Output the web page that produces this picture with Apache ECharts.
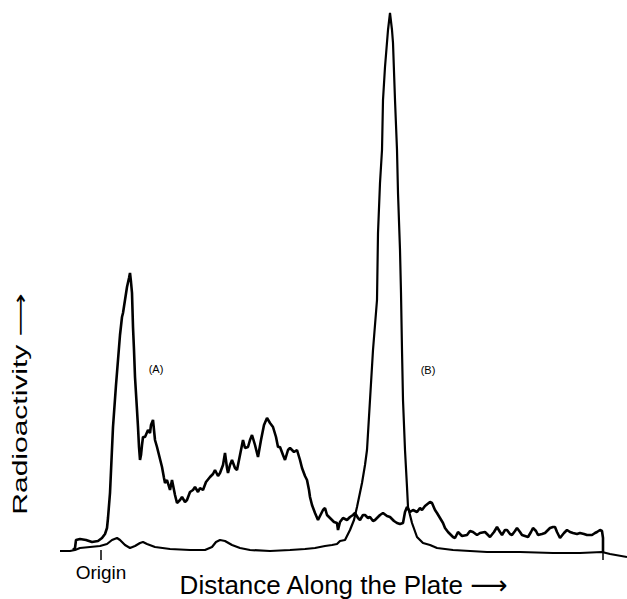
<!DOCTYPE html>
<html>
<head>
<meta charset="utf-8">
<script src="https://cdn.jsdelivr.net/npm/echarts@6/dist/echarts.min.js"></script>
<style>
html,body{margin:0;padding:0;background:#fff;}
#chart{width:627px;height:599px;}
</style>
</head>
<body>
<div id="chart"></div>
<script>
// Trace (A): [distance, radioactivity]
var traceA = [[73,0],[75,2],[76,10],[80,11],[86,10],[92,8],[98,9],[102,12],[105,16],[107,22],[108,32],[110,57],[113,123],[116,165],[118,190],[120,215],[122,233],[123,237],[125,250],[127,263],[129,272],[130,277],[131,268],[132,257],[133,223],[134,200],[135,173],[137,140],[138,123],[139,103],[140,90],[141,95],[142,105],[143,113],[145,113],[148,120],[150,117],[151,125],[153,130],[155,110],[157,103],[159,95],[162,83],[164,72],[165,67],[167,70],[170,60],[172,70],[175,55],[177,47],[180,50],[182,53],[185,48],[187,50],[190,58],[193,60],[195,63],[198,58],[200,62],[203,60],[206,68],[210,73],[213,76],[215,80],[218,74],[220,77],[223,85],[225,97],[227,82],[228,77],[230,85],[232,90],[235,82],[237,80],[240,95],[243,110],[245,102],[248,103],[250,110],[252,115],[255,105],[258,93],[261,110],[264,125],[267,132],[270,127],[273,123],[276,113],[278,103],[280,103],[283,95],[285,90],[288,100],[290,102],[294,98],[297,100],[300,90],[302,82],[305,74],[307,70],[309,60],[310,53],[312,45],[315,37],[318,30],[321,36],[323,40],[325,42],[327,35],[330,32],[334,28],[337,27],[338,20],[340,28],[343,32],[347,30],[350,33],[353,35],[355,37],[358,32],[360,30],[363,35],[365,35],[368,32],[370,33],[373,29],[375,30],[380,35],[383,37],[387,34],[390,33],[394,29],[397,27],[400,26],[403,27],[405,38],[407,43],[410,38],[413,40],[417,38],[420,42],[422,40],[425,44],[430,48],[432,47],[435,40],[437,37],[440,32],[443,27],[445,22],[448,18],[450,16],[453,13],[455,12],[458,18],[462,14],[467,15],[470,19],[473,18],[477,15],[480,17],[485,18],[490,13],[494,18],[497,23],[500,18],[502,15],[505,20],[507,20],[510,16],[512,15],[515,19],[517,22],[520,18],[522,15],[525,14],[528,13],[531,18],[533,22],[536,19],[538,15],[542,16],[545,17],[548,20],[550,22],[553,23],[555,23],[557,18],[560,12],[564,17],[567,20],[570,18],[573,17],[577,16],[580,17],[584,16],[587,15],[590,15],[592,15],[595,17],[597,18],[600,20],[602,19],[603,12],[603,-2]];

// Trace (B): [distance, radioactivity]
var traceB = [[60,-1],[70,-1],[75,0],[80,2],[90,3],[100,4],[107,6],[112,10],[117,12],[120,10],[125,5],[130,2],[135,4],[140,7],[143,8],[147,6],[155,3],[170,1],[190,0],[205,0],[212,3],[216,8],[220,10],[225,9],[232,5],[240,2],[250,0],[270,-1],[290,0],[305,1],[315,2],[325,4],[332,5],[337,6],[340,9],[345,10],[350,20],[354,30],[357,43],[362,67],[365,85],[367,100],[370,150],[373,200],[377,250],[378,317],[380,367],[382,400],[383,450],[385,483],[388,520],[390,537],[392,520],[393,507],[395,450],[397,400],[398,357],[400,300],[401,257],[402,200],[403,150],[405,100],[407,63],[408,43],[410,35],[412,27],[417,13],[423,7],[430,5],[437,2],[453,0],[487,-2],[520,-2],[553,-3],[580,-3],[602,-2],[610,-4],[627,-7]];

// Axis ticks and labels
var tickPositions = [101, 603];
var tickLabelPositions = [101];
var tickLabelTexts = ['Origin'];

// Peak annotations
var peakNames = ['(A)', '(B)'];
var peakLabelPos = [[156, 181], [428, 180]];

var xTitle = 'Distance Along the Plate \u27F6';
var yTitle = 'Radioactivity \u27F6';

var FONT = "'Liberation Sans', Arial, 'DejaVu Sans', sans-serif";

var chart = echarts.init(document.getElementById('chart'), null, {renderer: 'svg'});

chart.setOption({
  animation: false,
  backgroundColor: '#fff',
  grid: {left: 60, right: 0, top: 0, bottom: 39, containLabel: false, outerBoundsMode: 'none'},
  xAxis: {
    type: 'value',
    min: 60,
    max: 627,
    axisLine: {show: false},
    splitLine: {show: false},
    axisTick: {
      show: true,
      customValues: tickPositions,
      length: 10,
      inside: false,
      lineStyle: {color: '#000', width: 1.5}
    },
    axisLabel: {
      show: true,
      customValues: tickLabelPositions,
      formatter: function (v) {
        var i = tickLabelPositions.indexOf(v);
        return i >= 0 ? tickLabelTexts[i] : '';
      },
      margin: 3,
      color: '#000',
      fontSize: 19,
      fontFamily: FONT
    },
    name: xTitle,
    nameLocation: 'middle',
    nameGap: 12,
    nameMoveOverlap: false,
    nameTextStyle: {color: '#000', fontSize: 26, fontFamily: FONT}
  },
  yAxis: {
    type: 'value',
    min: -10,
    max: 550,
    show: false
  },
  graphic: [{
    type: 'text',
    x: 20,
    y: 404,
    rotation: Math.PI / 2,
    scaleX: 1.5,
    style: {
      text: yTitle,
      fill: '#000',
      font: '20px ' + FONT,
      textAlign: 'center',
      textVerticalAlign: 'middle'
    }
  }],
  series: [{
    name: 'A',
    type: 'line',
    data: traceA,
    showSymbol: false,
    symbol: 'none',
    lineStyle: {color: '#000', width: 2.6},
    markPoint: {
      symbol: 'circle',
      symbolSize: 0,
      label: {
        show: true,
        position: 'inside',
        color: '#000',
        fontSize: 11,
        fontFamily: FONT,
        formatter: function (p) { return p.name; }
      },
      data: peakNames.map(function (n, i) {
        return {name: n, coord: peakLabelPos[i]};
      })
    }
  }, {
    name: 'B',
    type: 'line',
    data: traceB,
    showSymbol: false,
    symbol: 'none',
    lineStyle: {color: '#000', width: 2.2}
  }]
});
</script>
</body>
</html>
